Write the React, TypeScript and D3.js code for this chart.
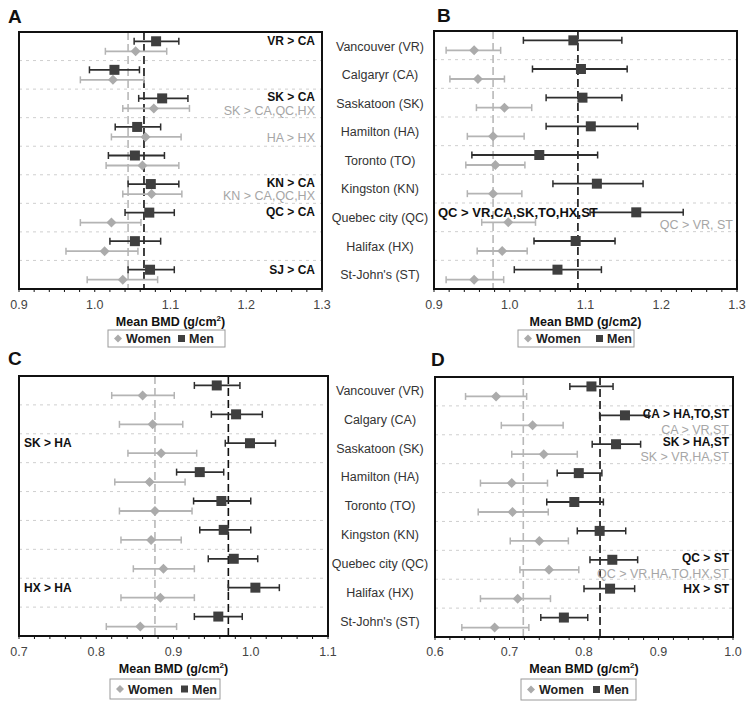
import React from "react";
import * as d3 from "d3";

// city rows (top pair of panels has the "Calgaryr" typo of the original)
const citiesTop = [
  "Vancouver (VR)", "Calgaryr (CA)", "Saskatoon (SK)", "Hamilton (HA)", "Toronto (TO)",
  "Kingston (KN)", "Quebec city (QC)", "Halifax (HX)", "St-John's (ST)",
];
const citiesBottom = [
  "Vancouver (VR)", "Calgary (CA)", "Saskatoon (SK)", "Hamilton (HA)", "Toronto (TO)",
  "Kingston (KN)", "Quebec city (QC)", "Halifax (HX)", "St-John's (ST)",
];

type Est = [number, number, number]; // mean, lower CI, upper CI

// Panel A
const menA: Est[] = [
  [1.081, 1.052, 1.111], [1.026, 0.993, 1.059], [1.089, 1.058, 1.123],
  [1.056, 1.027, 1.087], [1.053, 1.018, 1.092], [1.074, 1.044, 1.111],
  [1.072, 1.04, 1.105], [1.053, 1.02, 1.087], [1.073, 1.044, 1.105],
];
const womenA: Est[] = [
  [1.054, 1.014, 1.095], [1.024, 0.981, 1.065], [1.078, 1.037, 1.125],
  [1.067, 1.022, 1.114], [1.063, 1.015, 1.111], [1.075, 1.037, 1.115],
  [1.022, 0.981, 1.061], [1.013, 0.962, 1.057], [1.037, 0.99, 1.083],
];
// Panel B
const menB: Est[] = [
  [1.084, 1.018, 1.148], [1.094, 1.03, 1.155], [1.096, 1.048, 1.148],
  [1.107, 1.048, 1.169], [1.039, 0.95, 1.116], [1.115, 1.057, 1.176],
  [1.167, 1.106, 1.229], [1.087, 1.032, 1.139], [1.063, 1.006, 1.121],
];
const womenB: Est[] = [
  [0.953, 0.916, 0.988], [0.958, 0.921, 0.993], [0.993, 0.956, 1.029],
  [0.978, 0.944, 1.019], [0.981, 0.942, 1.02], [0.978, 0.944, 1.016],
  [0.998, 0.963, 1.034], [0.99, 0.957, 1.023], [0.953, 0.916, 0.992],
];
// Panel C
const menC: Est[] = [
  [0.956, 0.927, 0.986], [0.981, 0.949, 1.015], [0.999, 0.967, 1.032],
  [0.934, 0.904, 0.965], [0.962, 0.926, 1.0], [0.965, 0.934, 1.0],
  [0.978, 0.945, 1.009], [1.006, 0.971, 1.037], [0.958, 0.927, 0.989],
];
const womenC: Est[] = [
  [0.86, 0.82, 0.901], [0.873, 0.83, 0.912], [0.884, 0.841, 0.93],
  [0.869, 0.824, 0.915], [0.876, 0.83, 0.924], [0.871, 0.832, 0.91],
  [0.887, 0.848, 0.927], [0.883, 0.832, 0.927], [0.857, 0.813, 0.904],
];
// Panel D
const menD: Est[] = [
  [0.81, 0.781, 0.839], [0.855, 0.821, 0.887], [0.843, 0.811, 0.876],
  [0.793, 0.764, 0.824], [0.787, 0.75, 0.826], [0.821, 0.791, 0.856],
  [0.838, 0.808, 0.872], [0.835, 0.8, 0.868], [0.773, 0.742, 0.805],
];
const womenD: Est[] = [
  [0.682, 0.641, 0.723], [0.731, 0.689, 0.772], [0.746, 0.703, 0.791],
  [0.703, 0.661, 0.751], [0.704, 0.658, 0.752], [0.74, 0.701, 0.779],
  [0.753, 0.714, 0.793], [0.711, 0.661, 0.755], [0.68, 0.636, 0.726],
];

// overall means (dashed reference lines): [men, women]
const refA = [1.065, 1.044];
const refB = [1.09, 0.978];
const refC = [0.971, 0.876];
const refD = [0.8215, 0.7185];

type Note = { text: string; row: number; sex: "men" | "women"; dy?: number };
const notesA: Note[] = [
  { text: "VR > CA", row: 0, sex: "men" },
  { text: "SK > CA", row: 2, sex: "men", dy: -2 },
  { text: "SK > CA,QC,HX", row: 2, sex: "women", dy: 2 },
  { text: "HA > HX", row: 3, sex: "women", dy: 1 },
  { text: "KN > CA", row: 5, sex: "men", dy: -1.5 },
  { text: "KN > CA,QC,HX", row: 5, sex: "women", dy: 1.5 },
  { text: "QC > CA", row: 6, sex: "men", dy: -1 },
  { text: "SJ > CA", row: 8, sex: "men" },
];
const notesBLeft: Note[] = [{ text: "QC > VR,CA,SK,TO,HX,ST", row: 6, sex: "men" }];
const notesBRight: Note[] = [{ text: "QC > VR, ST", row: 6, sex: "women", dy: 2 }];
const notesC: Note[] = [
  { text: "SK > HA", row: 2, sex: "men" },
  { text: "HX > HA", row: 7, sex: "men" },
];
const notesD: Note[] = [
  { text: "CA > HA,TO,ST", row: 1, sex: "men", dy: -2 },
  { text: "CA > VR,ST", row: 1, sex: "women", dy: 4 },
  { text: "SK > HA,ST", row: 2, sex: "men", dy: -2 },
  { text: "SK > VR,HA,ST", row: 2, sex: "women", dy: 2.5 },
  { text: "QC > ST", row: 6, sex: "men", dy: -2 },
  { text: "QC > VR,HA,TO,HX,ST", row: 6, sex: "women", dy: 4 },
  { text: "HX > ST", row: 7, sex: "men" },
];

const FONT = "Liberation Sans, Arial, sans-serif";
const MEN = "#3f3f3f";
const MEN_BAR = "#2e2e2e";
const WOMEN = "#ababab";
const WOMEN_BAR = "#b4b4b4";

type PanelProps = {
  letter: string;
  letterPos: [number, number];
  box: { x0: number; x1: number; y0: number; y1: number };
  domain: [number, number];
  men: Est[];
  women: Est[];
  refs: number[];
  notesRight?: Note[];
  notesLeft?: Note[];
  rightX?: number;
  leftX?: number;
  noteSize?: number;
  title: React.ReactNode;
  axisY: number;
  legend: { x: number; y: number; w: number; h: number; gap: number };
};

function Panel(p: PanelProps) {
  const { box } = p;
  const x = d3.scaleLinear().domain(p.domain).range([box.x0, box.x1]);
  const rows = d3.scaleBand<number>().domain(d3.range(9)).range([box.y0, box.y1]);
  const bw = rows.bandwidth();
  const yc = (i: number) => (rows(i) as number) + bw / 2;
  const yOf = (i: number, sex: "men" | "women") => yc(i) + (sex === "men" ? -5 : 5);
  const major = d3.range(p.domain[0], p.domain[1] + 1e-9, 0.1);
  const minor = d3.range(p.domain[0], p.domain[1] + 1e-9, 0.02);
  const cx = (box.x0 + box.x1) / 2;
  const cap = 3.5;
  const ns = p.noteSize ?? 12;

  const bar = (d: Est, i: number, sex: "men" | "women") => {
    const y = yOf(i, sex);
    const col = sex === "men" ? MEN_BAR : WOMEN_BAR;
    return (
      <g key={sex + i}>
        <line x1={x(d[1])} x2={x(d[2])} y1={y} y2={y} stroke={col} strokeWidth={1.8} />
        <line x1={x(d[1])} x2={x(d[1])} y1={y - cap} y2={y + cap} stroke={col} strokeWidth={1.5} />
        <line x1={x(d[2])} x2={x(d[2])} y1={y - cap} y2={y + cap} stroke={col} strokeWidth={1.5} />
      </g>
    );
  };

  const noteEl = (n: Note, anchor: "start" | "end", xx: number, k: number) => (
    <text
      key={n.text + k}
      x={xx}
      y={yOf(n.row, n.sex) + (n.dy ?? 0)}
      dy="0.35em"
      textAnchor={anchor}
      fontSize={n.sex === "men" ? ns : 12.5}
      fontWeight={n.sex === "men" ? "bold" : "normal"}
      fill={n.sex === "men" ? "#111" : "#a6a6a6"}
    >
      {n.text}
    </text>
  );

  const lg = p.legend;
  return (
    <g fontFamily={FONT}>
      <text x={p.letterPos[0]} y={p.letterPos[1]} fontSize={19} fontWeight="bold" fill="#111">
        {p.letter}
      </text>
      {/* row separators */}
      {d3.range(1, 9).map((i) => (
        <line key={"sep" + i} x1={box.x0} x2={box.x1} y1={rows(i)} y2={rows(i)}
          stroke="#cfcfcf" strokeDasharray="3,4" strokeWidth={1} />
      ))}
      {/* reference lines */}
      <line x1={x(p.refs[1])} x2={x(p.refs[1])} y1={box.y0} y2={box.y1}
        stroke="#b8b8b8" strokeWidth={1.6} strokeDasharray="8,4" />
      <line x1={x(p.refs[0])} x2={x(p.refs[0])} y1={box.y0} y2={box.y1}
        stroke="#111" strokeWidth={1.6} strokeDasharray="8,4" />
      {p.women.map((d, i) => bar(d, i, "women"))}
      {p.men.map((d, i) => bar(d, i, "men"))}
      {p.women.map((d, i) => {
        const y = yOf(i, "women");
        const cxx = x(d[0]);
        return (
          <path key={"wm" + i} d={`M${cxx},${y - 5}L${cxx + 5},${y}L${cxx},${y + 5}L${cxx - 5},${y}Z`}
            fill={WOMEN} />
        );
      })}
      {p.men.map((d, i) => (
        <rect key={"mm" + i} x={x(d[0]) - 5} y={yOf(i, "men") - 5} width={10} height={10} fill={MEN} />
      ))}
      {(p.notesRight ?? []).map((n, k) => noteEl(n, "end", p.rightX ?? box.x1 - 6, k))}
      {(p.notesLeft ?? []).map((n, k) => noteEl(n, "start", p.leftX ?? box.x0 + 4, k))}
      {/* frame */}
      <rect x={box.x0} y={box.y0} width={box.x1 - box.x0} height={box.y1 - box.y0}
        fill="none" stroke="#111" strokeWidth={2} />
      {minor.map((v, i) => (
        <line key={"mt" + i} x1={x(v)} x2={x(v)} y1={box.y1} y2={box.y1 + 3} stroke="#111" strokeWidth={1} />
      ))}
      {major.map((v, i) => (
        <text key={"tl" + i} x={x(v)} y={p.axisY} textAnchor="middle" fontSize={12.5} fill="#444">
          {d3.format(".1f")(v)}
        </text>
      ))}
      <text x={cx} y={p.axisY + 17} textAnchor="middle" fontSize={12.5} fontWeight="bold" fill="#111">
        {p.title}
      </text>
      {/* legend */}
      <rect x={lg.x} y={lg.y} width={lg.w} height={lg.h} fill="white" stroke="#9a9a9a" strokeWidth={1} />
      <path
        d={`M${lg.x + 10},${lg.y + lg.h / 2 - 4}l4,4l-4,4l-4,-4Z`}
        fill={WOMEN}
      />
      <text x={lg.x + 18} y={lg.y + lg.h / 2} dy="0.36em" fontSize={12.5} fontWeight="bold" fill="#222">
        Women
      </text>
      <rect x={lg.x + 18 + lg.gap} y={lg.y + lg.h / 2 - 3.5} width={7} height={7} fill={MEN} />
      <text x={lg.x + 29 + lg.gap} y={lg.y + lg.h / 2} dy="0.36em" fontSize={12.5} fontWeight="bold" fill="#222">
        Men
      </text>
    </g>
  );
}

function CityLabels({ names, y0, y1 }: { names: string[]; y0: number; y1: number }) {
  const rows = d3.scaleBand<number>().domain(d3.range(names.length)).range([y0, y1]);
  return (
    <g fontFamily={FONT}>
      {names.map((n, i) => (
        <text key={n} x={380} y={(rows(i) as number) + rows.bandwidth() / 2} dy="0.35em"
          textAnchor="middle" fontSize={12.5} fill="#333">
          {n}
        </text>
      ))}
    </g>
  );
}

const gcm2 = (
  <>
    Mean BMD (g/cm<tspan dy={-5} fontSize={8}>2</tspan>
    <tspan dy={5}>)</tspan>
  </>
);

export default function App() {
  return (
    <svg width={752} height={708} style={{ position: "absolute", left: 0, top: 0, background: "white" }}>
      <rect width={752} height={708} fill="white" />
      <Panel
        letter="A" letterPos={[8, 23]}
        box={{ x0: 19, x1: 322, y0: 32, y1: 289 }}
        domain={[0.9, 1.3]} men={menA} women={womenA} refs={refA}
        notesRight={notesA} rightX={315} noteSize={12}
        title={gcm2} axisY={309}
        legend={{ x: 108, y: 330, w: 117, h: 17, gap: 52 }}
      />
      <Panel
        letter="B" letterPos={[437, 22]}
        box={{ x0: 434, x1: 737, y0: 31, y1: 289 }}
        domain={[0.9, 1.3]} men={menB} women={womenB} refs={refB}
        notesLeft={notesBLeft} leftX={438}
        notesRight={notesBRight} rightX={733} noteSize={13}
        title="Mean BMD (g/cm2)" axisY={309}
        legend={{ x: 518, y: 330, w: 116, h: 17, gap: 60 }}
      />
      <Panel
        letter="C" letterPos={[8, 365]}
        box={{ x0: 19, x1: 328, y0: 376, y1: 636 }}
        domain={[0.7, 1.1]} men={menC} women={womenC} refs={refC}
        notesLeft={notesC} leftX={24}
        title={gcm2} axisY={656}
        legend={{ x: 110, y: 679, w: 110, h: 20, gap: 53 }}
      />
      <Panel
        letter="D" letterPos={[431, 366]}
        box={{ x0: 435, x1: 733, y0: 377, y1: 637 }}
        domain={[0.6, 1.0]} men={menD} women={womenD} refs={refD}
        notesRight={notesD} rightX={729}
        title={gcm2} axisY={656}
        legend={{ x: 521, y: 679, w: 115, h: 21, gap: 54 }}
      />
      <CityLabels names={citiesTop} y0={32} y1={289} />
      <CityLabels names={citiesBottom} y0={376} y1={636} />
    </svg>
  );
}
